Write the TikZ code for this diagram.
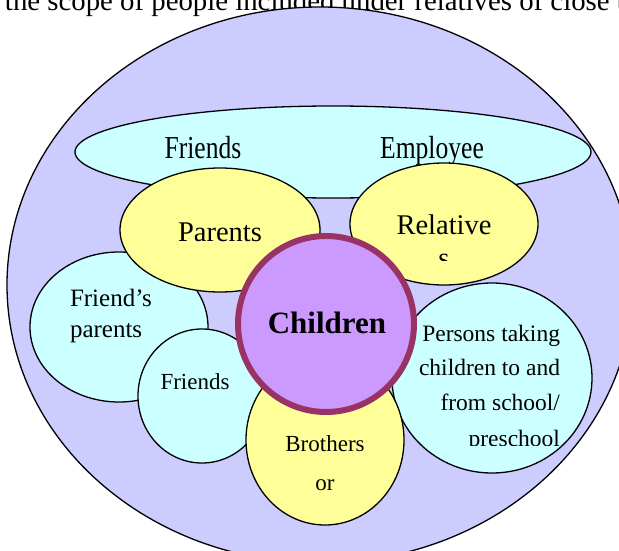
\documentclass[tikz,border=0pt]{standalone}
\usepackage{fontspec}
\setmainfont{Liberation Serif}
\usetikzlibrary{shapes.geometric}
\definecolor{bigc}{HTML}{CCCCFF}
\definecolor{cyanc}{HTML}{CCFFFF}
\definecolor{yelc}{HTML}{FFFF99}
\definecolor{kidc}{HTML}{CC99FF}
\definecolor{kidb}{HTML}{993366}
\newcommand\setfs[1]{\fontsize{#1}{#1}\selectfont}
\begin{document}
\begin{tikzpicture}[x=1pt,y=-1pt,
  blob/.style={ellipse, draw=black, line width=1.3pt, inner sep=0pt, outer sep=0pt},
  lbl/.style={inner sep=0pt, outer sep=0pt, text=black},
]
\path[use as bounding box] (0,0) rectangle (619,551);
\clip (0,0) rectangle (619,551);
\node[lbl, anchor=base west] (title) at (5,10.5) {\setfs{28.8}the scope of people included under relatives of close to};
% outer
\node[blob, fill=bigc, minimum width=626, minimum height=556] (big) at (320,285) {};
\node[blob, fill=cyanc, minimum width=516, minimum height=92] (top) at (333,152) {};
\node[lbl, anchor=base] (tfriends) at (203,158) {\scalebox{0.8}[1]{\setfs{32}Friends}};
\node[lbl, anchor=base] (temploy) at (432,158) {\scalebox{0.8}[1]{\setfs{32}Employee}};
% friend's parents
\node[blob, fill=cyanc, minimum width=178, minimum height=150] (fparents) at (119,327) {};
\node[lbl, anchor=base west] (fp1) at (70,306) {\setfs{25}Friend’s};
\node[lbl, anchor=base west] (fp2) at (70,337) {\setfs{25}parents};
% parents
\node[blob, fill=yelc, minimum width=200, minimum height=124] (parents) at (220,230) {};
\node[lbl, anchor=base] (tparents) at (220,241) {\setfs{28.5}Parents};
% relatives
\node[blob, fill=yelc, minimum width=188, minimum height=122] (relatives) at (444,224) {};
\node[lbl, anchor=base] (trel1) at (444,234) {\setfs{28.5}Relative};
\begin{scope}
\clip (400,240) rectangle (490,260);
\node[lbl, anchor=base] (trel2) at (444,267) {\setfs{28.5}s};
\end{scope}
% friends
\node[blob, fill=cyanc, minimum width=128, minimum height=134] (friends) at (202,396) {};
\node[lbl, anchor=base] (tfriends2) at (195,389) {\setfs{23}Friends};
% persons
\node[blob, fill=cyanc, minimum width=200, minimum height=190] (persons) at (492,378) {};
\node[lbl, anchor=base east] (tp1) at (560,341) {\setfs{23.5}Persons taking};
\node[lbl, anchor=base east] (tp2) at (560,375) {\setfs{23.5}children to and};
\node[lbl, anchor=base east] (tp3) at (560,410) {\setfs{23.5}from school/};
\begin{scope}
\clip (450,420) rectangle (580,445);
\node[lbl, anchor=base east] (tp4) at (560,446) {\setfs{23.5}preschool};
\end{scope}
% brothers
\node[blob, fill=yelc, minimum width=158, minimum height=170] (brothers) at (325,440) {};
\node[lbl, anchor=base] (tb1) at (325,451) {\setfs{23}Brothers};
\node[lbl, anchor=base] (tb2) at (325,490) {\setfs{23}or};
% children
\node[circle, draw=kidb, fill=kidc, line width=6pt, minimum size=176, inner sep=0pt, outer sep=0pt] (children) at (326,324) {};
\node[lbl, anchor=base] (tchildren) at (327,333) {\setfs{31}\bfseries Children};
\end{tikzpicture}
\end{document}
